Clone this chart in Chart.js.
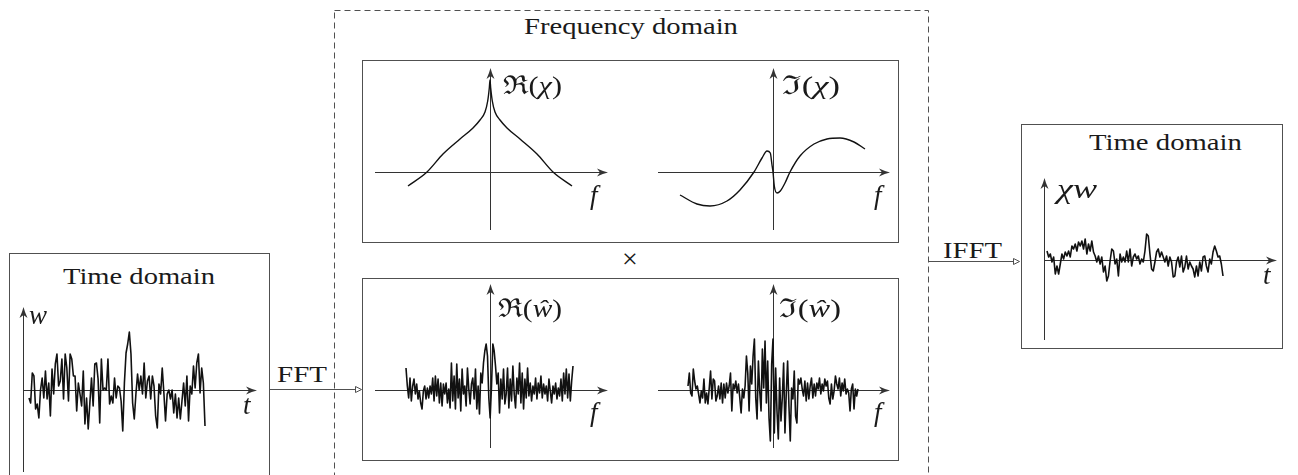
<!DOCTYPE html>
<html>
<head>
<meta charset="utf-8">
<script src="https://cdn.jsdelivr.net/npm/chart.js@4.4.1/dist/chart.umd.min.js"></script>
<style>
  html, body { margin: 0; padding: 0; background: #fff; }
  #stage { position: relative; width: 1298px; height: 475px; overflow: hidden; }
  #stage svg { position: absolute; left: 0; top: 0; }
  #stage canvas { position: absolute; }
  .lbl { position: absolute; white-space: nowrap; color: #1a1a1a; line-height: normal;
         font-family: "Liberation Serif", "Times New Roman", Times, serif; transform-origin: 0 0; }
  .lbl i { font-style: italic; }
  .lbl .bl { display: inline-block; width: 0; height: 0; vertical-align: baseline; }
</style>
</head>
<body>
<div id="stage">
<svg width="1298" height="475" xmlns="http://www.w3.org/2000/svg">
  <g fill="none" stroke="#505050" stroke-width="1">
    <rect x="9.5" y="253.5" width="260" height="240"/>
    <rect x="334.5" y="10.5" width="594" height="480" stroke-dasharray="6 4"/>
    <rect x="362.5" y="60.5" width="536" height="182"/>
    <rect x="362.5" y="278.5" width="536" height="182"/>
    <rect x="1021.5" y="124.5" width="261" height="224"/>
    <line x1="270" y1="389.5" x2="356" y2="389.5"/>
    <path d="M355.5 386.5 L361.5 389.5 L355.5 392.5 Z"/>
    <line x1="929" y1="261.5" x2="1014" y2="261.5"/>
    <path d="M1013.5 258.5 L1019.5 261.5 L1013.5 264.5 Z"/>
  </g>
</svg>
</div>
<script>
// signal w(t), left time-domain panel (amplitude)
const wTime = [-8, -13, 17, 14, -19, -14, -28, 0, 12, -8, 19, -9, 7, -26, 21, -4, 26, 36, 4, 9,
  31, -9, 36, 22, -11, 36, 31, 14, 14, -21, 7, -4, -16, 19, -34, -8, -39, -13, 12, -16,
  26, 27, 11, -33, 31, 0, 2, 0, 31, -14, -6, -13, 12, -8, 4, 2, -11, -41, 7, 37,
  46, 58, 36, -13, -29, -4, 16, 0, 14, -4, 27, -8, 9, 14, -9, 14, 4, -26, -38, 6,
  -4, 22, -3, -31, -4, 0, -9, 0, -23, -4, -28, -8, -29, -11, 7, -16, 14, -31, 4, -4,
  24, 2, 27, 36, -3, 22, 7, -36];

// chi*w(t), right time-domain panel
const chiWTime = [9, 3, 6, -2, 3, -14, -6, -14, -4, 6, 1, 8, 4, 9, 3, 14, 11, 16, 9, 18,
  14, 19, 11, 21, 6, 16, 9, 19, 8, 4, -2, 4, -4, 3, -12, -6, -21, -16, -1, 11,
  9, -4, 1, -16, 6, -2, 3, -2, 9, -2, 11, -6, 3, 6, 1, 4, -4, 1, -2, 9,
  26, 24, 6, -9, -11, -2, 8, 11, 3, 8, 3, -2, 4, -6, 3, -2, -17, -16, -2, 3,
  -7, 4, -12, -7, 4, -9, -2, -6, -9, -17, -6, -16, -2, -11, 3, 4, -6, -12, 1, -4,
  8, 14, 9, 3, 4, -4, -16];

// Re(w^), bottom-left panel
const reWHat = [22, 4, -8, 12, -11, 4, 11, -4, 6, -9, -1, -13, -19, -1, 4, -9, 2, -8, 4, -4,
  12, -11, 14, -6, 11, -13, 7, -16, 6, -4, 7, -13, 1, -18, 27, -11, 14, -19, 26, -8,
  11, -21, 21, -4, 4, -16, 22, 1, -14, 6, 12, -9, 21, -19, 4, -24, 17, 7, 27, 39,
  46, 34, -8, -28, 4, 46, 39, 24, 6, 17, -23, 11, -9, 21, -14, -4, 22, -18, 11, -11,
  24, -4, -18, 12, -4, 27, -13, 17, -19, 11, -8, 22, -6, 7, -11, 4, -4, 12, -9, 7,
  -3, 14, -8, 6, -4, 4, -11, 11, -1, -13, 4, -4, 7, -9, 2, -6, 11, -11, 17, -4,
  21, -8, 16, -11, 9, 24];

// Im(w^), bottom-right panel
const imWHat = [4, 17, -3, -6, 21, 9, 1, 4, -4, -13, -1, -8, 11, -13, -3, -14, 2, 19, -9, 11,
  9, -11, -6, 4, -9, 7, -13, 6, -8, 7, -3, 4, 17, -21, 6, 1, 9, -3, 6, -8,
  -23, 1, -8, 4, 34, 17, -21, 24, 6, 34, 51, -8, -29, 29, -1, -21, 41, 2, 49, -13,
  29, -28, -51, 26, 51, -43, 22, -21, -49, 12, -31, -8, 27, -43, -3, 29, -16, -51, 2, -9,
  19, -26, -33, 11, 6, 12, 1, -6, 9, -11, 7, -9, 4, 12, -8, 6, -6, 7, 1, 12,
  -4, 6, -1, 11, 4, 9, -8, -14, 6, -9, -1, 14, 6, 1, 12, -6, 7, -1, 11, -4,
  1, -3, -21, 1, 6, -19, 1, -6, 1];

// Re(chi) over f
const reChiF = [-82, -63, -47, -30, -17, -10, -5, -2.3, -0.7, 0, 0.7, 2.3, 5, 10, 17, 30, 47, 63, 82];
const reChiV = [-14, 0, 18, 33, 44, 52, 60, 71, 84, 92, 84, 71, 60, 52, 44, 33, 18, 0, -14];

// Im(chi) over f
const imChiF = [-93, -76, -63, -46, -33, -19, -11, -6, -2.7, -1, 0, 1.3, 4, 7.3, 12, 17, 27, 41, 54, 67, 81, 92];
const imChiV = [-23, -32, -34, -29, -18, 0, 14, 21, 19, 7, 0, -14, -21, -19, -11, 0, 16, 28, 33, 34, 30, 23];

// texts: html, left x, baseline y, font size, target width (0 = natural)
const LABELS = [
    ['Frequency domain', 524, 34, 23, 214],
    ['Time domain', 63, 284, 23, 152],
    ['Time domain', 1089, 150, 23, 153],
    ['FFT', 277, 382, 23, 50],
    ['IFFT', 943, 258, 23, 59],
    ['×', 622, 268, 28, 0],
    ['ℜ(<i>χ</i>)', 503, 94, 26, 59],
    ['ℑ(<i>χ</i>)', 782, 94, 26, 58],
    ['ℜ(<i>ŵ</i>)', 498, 317, 26, 64],
    ['ℑ(<i>ŵ</i>)', 779, 317, 26, 62],
    ['<i>f</i>', 590, 204, 27, 0],
    ['<i>f</i>', 874, 204, 27, 0],
    ['<i>f</i>', 590, 421, 27, 0],
    ['<i>f</i>', 874, 421, 27, 0],
    ['<i>w</i>', 29, 324, 27, 0],
    ['<i>t</i>', 243, 414, 27, 0],
    ['<i>χw</i>', 1057, 198, 27, 40],
    ['<i>t</i>', 1263, 284, 27, 0]
];

const AXIS_COLOR = '#333';
const LINE_COLOR = '#111';
const PAD = 8;

// evenly spaced samples between x0 and x1
function linePoints(values, x0, x1) {
    const n = values.length - 1;
    return values.map((v, i) => ({ x: x0 + (x1 - x0) * i / n, y: v }));
}
function pairPoints(xs, ys) {
    return xs.map((x, i) => ({ x: x, y: ys[i] }));
}

// panel: pixel extent of the axes + where the origin sits
const PANELS = [
    { left: 23, right: 257, top: 307, bottom: 472, ox: 23, oy: 390, pts: linePoints(wTime, 6, 182), smooth: false },
    { left: 1044, right: 1277, top: 178, bottom: 340, ox: 1044, oy: 260, pts: linePoints(chiWTime, 3, 179), smooth: false },
    { left: 375, right: 608, top: 68, bottom: 230, ox: 490, oy: 172, pts: pairPoints(reChiF, reChiV), smooth: true },
    { left: 658, right: 890, top: 68, bottom: 230, ox: 773, oy: 172, pts: pairPoints(imChiF, imChiV), smooth: true },
    { left: 375, right: 608, top: 284, bottom: 448, ox: 490, oy: 390, pts: linePoints(reWHat, -84, 83), smooth: false },
    { left: 658, right: 890, top: 284, bottom: 448, ox: 773, oy: 390, pts: linePoints(imWHat, -85, 85), smooth: false }
];

function arrowHead(ctx, x, y, ang) {
    ctx.save();
    ctx.translate(x, y);
    ctx.rotate(ang);
    ctx.beginPath();
    ctx.moveTo(0, 0);
    ctx.quadraticCurveTo(-5, -1.2, -11, -4);
    ctx.lineTo(-8, 0);
    ctx.lineTo(-11, 4);
    ctx.quadraticCurveTo(-5, 1.2, 0, 0);
    ctx.closePath();
    ctx.fill();
    ctx.restore();
}

// axes through the origin with arrow tips
const arrowAxes = {
    id: 'arrowAxes',
    beforeDatasetsDraw(chart) {
        const { ctx, chartArea: a, scales } = chart;
        const ox = Math.round(scales.x.getPixelForValue(0)) + 0.5;
        const oy = Math.round(scales.y.getPixelForValue(0)) + 0.5;
        ctx.save();
        ctx.strokeStyle = AXIS_COLOR;
        ctx.fillStyle = AXIS_COLOR;
        ctx.lineWidth = 1;
        ctx.beginPath();
        ctx.moveTo(a.left, oy);
        ctx.lineTo(a.right - 6, oy);
        ctx.moveTo(ox, a.bottom);
        ctx.lineTo(ox, a.top + 6);
        ctx.stroke();
        arrowHead(ctx, a.right, oy, 0);
        arrowHead(ctx, ox, a.top, -Math.PI / 2);
        ctx.restore();
    }
};

const stage = document.getElementById('stage');

PANELS.forEach(p => {
    const cv = document.createElement('canvas');
    cv.width = p.right - p.left + 2 * PAD;
    cv.height = p.bottom - p.top + 2 * PAD;
    cv.style.left = (p.left - PAD) + 'px';
    cv.style.top = (p.top - PAD) + 'px';
    stage.appendChild(cv);
    new Chart(cv, {
        type: 'line',
        data: {
            datasets: [{
                data: p.pts,
                borderColor: LINE_COLOR,
                borderWidth: p.smooth ? 1.4 : 1.6,
                borderJoinStyle: 'round',
                pointRadius: 0,
                fill: false,
                tension: p.smooth ? 0.4 : 0,
                cubicInterpolationMode: p.smooth ? 'monotone' : 'default'
            }]
        },
        options: {
            responsive: false,
            animation: false,
            events: [],
            layout: { padding: PAD },
            plugins: { legend: { display: false }, tooltip: { enabled: false } },
            scales: {
                x: { type: 'linear', min: p.left - p.ox, max: p.right - p.ox, display: false },
                y: { type: 'linear', min: p.oy - p.bottom, max: p.oy - p.top, display: false }
            }
        },
        plugins: [arrowAxes]
    });
});

// place text by its baseline, stretch to the measured width of the original
LABELS.forEach(([html, x, y, size, width]) => {
    const d = document.createElement('div');
    d.className = 'lbl';
    d.style.fontSize = size + 'px';
    d.style.left = x + 'px';
    d.style.top = '0px';
    d.innerHTML = '<span class="t">' + html + '</span><span class="bl"></span>';
    stage.appendChild(d);
    const base = d.querySelector('.bl').offsetTop;
    d.style.top = (y - base) + 'px';
    if (width) {
        const w = d.querySelector('.t').getBoundingClientRect().width;
        if (w > 0) d.style.transform = 'scaleX(' + (width / w).toFixed(3) + ')';
    }
});
</script>
</body>
</html>
